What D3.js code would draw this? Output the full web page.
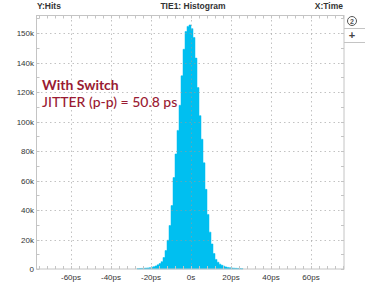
<!DOCTYPE html>
<html>
<head>
<meta charset="utf-8">
<script src="https://cdn.jsdelivr.net/npm/d3@7"></script>
<style>
  body { margin: 0; background: #fff; }
  svg { display: block; }
</style>
</head>
<body>
<svg id="chart" width="365" height="283"></svg>
<script>
// histogram bins: left edge (ps), 1 ps wide, hits in thousands
const binEdges = d3.range(-27, 26);
const binHits = [
  0.25, 0.3, 0.4, 0.5, 0.6, 0.7, 0.9, 1.2, 1.6, 2.1,
  2.8, 3.7, 5.0, 7.8, 12.5, 19.5, 29.5, 43, 62, 78,
  94, 111, 131, 149, 161, 164.5, 165.5, 163, 157, 143,
  123, 104, 88, 72, 54, 37, 25, 17, 10.5, 6.5,
  4.6, 3.3, 2.5, 1.9, 1.4, 1.05, 0.85, 0.7, 0.55, 0.45,
  0.38, 0.3, 0.2
];
const yTicks = [0, 20, 40, 60, 80, 100, 120, 140, 160];
const yTickLabels = ["0", "20k", "40k", "60k", "80k", "100k", "120k", "140k", "150k"];
const xTicks = [-60, -40, -20, 0, 20, 40, 60];
const xTickLabels = ["-60ps", "-40ps", "-20ps", "0s", "20ps", "40ps", "60ps"];

const svg = d3.select("#chart");
const pLeft = 36.5, pRight = 344, pTop = 15.5, pBottom = 269;

let x = d3.scaleLinear().domain([-77.25, 76.5]).range([pLeft, pRight]);
let y = d3.scaleLinear().domain([0, 171.9]).range([pBottom, pTop]);

//histogram (step outline, one polygon)
let pts = binEdges.map((e, i) => [e, binHits[i]]);
pts.push([binEdges[binEdges.length - 1] + 1, binHits[binHits.length - 1]]);
let area = d3.area()
  .curve(d3.curveStepAfter)
  .x(d => x(d[0]))
  .y0(y(0))
  .y1(d => y(d[1]));
svg.append("path")
  .datum(pts)
  .attr("d", area)
  .attr("fill", "#00bff0")
  .attr("stroke", "#00bff0")
  .attr("stroke-width", 0.5);

//gridlines, drawn over the histogram
let grid = svg.append("g")
  .attr("stroke", "#999")
  .attr("stroke-opacity", 0.6)
  .attr("stroke-dasharray", "1.5,3")
  .attr("stroke-width", 1);
grid.selectAll(".gy")
  .data(yTicks.slice(1))
  .join("line")
  .attr("x1", pLeft).attr("x2", pRight)
  .attr("y1", d => Math.round(y(d)) + 0.5).attr("y2", d => Math.round(y(d)) + 0.5);
grid.selectAll(".gx")
  .data(xTicks)
  .join("line")
  .attr("y1", pTop).attr("y2", pBottom)
  .attr("x1", d => Math.round(x(d)) + 0.5).attr("x2", d => Math.round(x(d)) + 0.5);

//frame
svg.append("rect")
  .attr("x", pLeft).attr("y", pTop)
  .attr("width", pRight - pLeft).attr("height", pBottom - pTop)
  .attr("fill", "none")
  .attr("stroke", "#c4c4c4");

//minor ticks
let minorX = d3.range(-76, 77, 4);
let ticks = svg.append("g").attr("stroke", "#c4c4c4");
ticks.selectAll(".mb").data(minorX).join("line")
  .attr("x1", d => Math.round(x(d)) + 0.5).attr("x2", d => Math.round(x(d)) + 0.5)
  .attr("y1", pBottom).attr("y2", pBottom - 3);
ticks.selectAll(".mt").data(minorX).join("line")
  .attr("x1", d => Math.round(x(d)) + 0.5).attr("x2", d => Math.round(x(d)) + 0.5)
  .attr("y1", pTop).attr("y2", pTop + 3);
let minorY = d3.range(0, 171, 10);
ticks.selectAll(".ml").data(minorY).join("line")
  .attr("x1", pLeft).attr("x2", pLeft + 3)
  .attr("y1", d => Math.round(y(d)) + 0.5).attr("y2", d => Math.round(y(d)) + 0.5);
ticks.selectAll(".mr").data(minorY).join("line")
  .attr("x1", pRight).attr("x2", pRight - 3)
  .attr("y1", d => Math.round(y(d)) + 0.5).attr("y2", d => Math.round(y(d)) + 0.5);

//tick labels
let lab = svg.append("g")
  .style("font", "8px 'Liberation Sans', Arial, sans-serif")
  .attr("fill", "#333");
lab.selectAll(".yl").data(yTicks).join("text")
  .attr("x", 34)
  .attr("y", d => y(d) + 3)
  .attr("text-anchor", "end")
  .text((d, i) => yTickLabels[i]);
lab.selectAll(".xl").data(xTicks).join("text")
  .attr("x", d => x(d))
  .attr("y", 280)
  .attr("text-anchor", "middle")
  .text((d, i) => xTickLabels[i]);

//header
let head = svg.append("g")
  .style("font", "bold 8.5px 'Liberation Sans', Arial, sans-serif")
  .attr("fill", "#333");
head.append("text").attr("x", 37).attr("y", 9).text("Y:Hits");
head.append("text").attr("x", 193).attr("y", 9).attr("text-anchor", "middle").text("TIE1: Histogram");
head.append("text").attr("x", 343).attr("y", 9).attr("text-anchor", "end").text("X:Time");

//side buttons
let side = svg.append("g").attr("stroke", "#c4c4c4").attr("fill", "none");
side.append("line").attr("x1", 344).attr("x2", 365).attr("y1", 28.5).attr("y2", 28.5);
side.append("line").attr("x1", 344).attr("x2", 365).attr("y1", 42.5).attr("y2", 42.5);
svg.append("circle").attr("cx", 352).attr("cy", 21).attr("r", 4.5)
  .attr("fill", "none").attr("stroke", "#555");
svg.append("text").attr("x", 352).attr("y", 24).attr("text-anchor", "middle")
  .style("font", "bold 7px 'Liberation Sans', Arial, sans-serif").attr("fill", "#555").text("2");
svg.append("text").attr("x", 352).attr("y", 39).attr("text-anchor", "middle")
  .style("font", "bold 11px 'Liberation Sans', Arial, sans-serif").attr("fill", "#444").text("+");

//annotation
let note = svg.append("g")
  .attr("fill", "#9a1b33")
  .style("font-family", "Lato, 'Open Sans', sans-serif")
  .style("font-size", "14px");
note.append("text").attr("x", 42).attr("y", 90).style("font-weight", "bold").text("With Switch");
note.append("text").attr("x", 42).attr("y", 107).style("font-weight", "500").text("JITTER (p-p) = 50.8 ps");
</script>
</body>
</html>
